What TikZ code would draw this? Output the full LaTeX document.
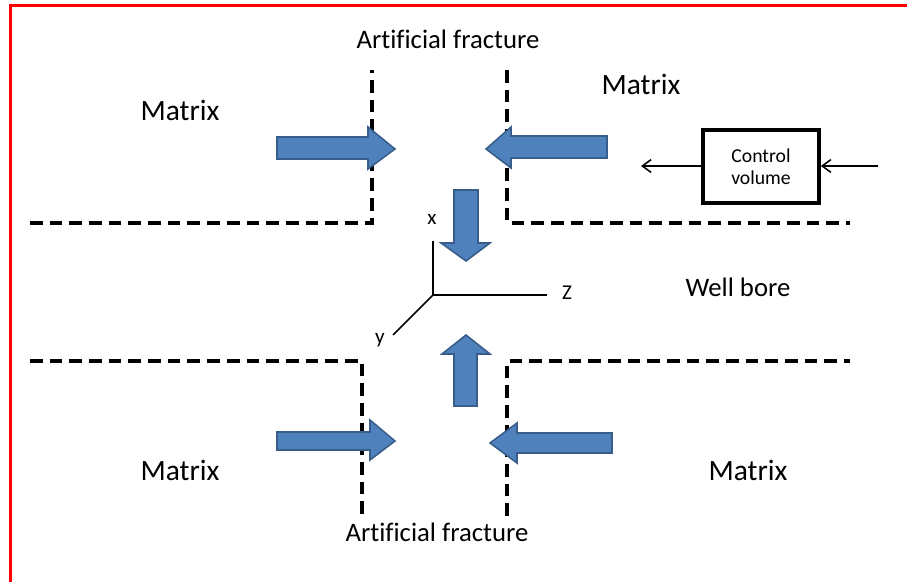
\documentclass[tikz,border=0pt]{standalone}
\usepackage{fontspec}
\setmainfont{Carlito}[Ligatures=NoCommon]
\usetikzlibrary{arrows.meta}
\definecolor{arrowfill}{RGB}{79,129,189}
\definecolor{arrowline}{RGB}{56,93,138}

\begin{document}
\begin{tikzpicture}[x=0.025cm,y=-0.025cm,line cap=butt,
  fracline/.style={line width=2.5pt,dash pattern=on 9pt off 5pt},
  blockarrow/.style={fill=arrowfill,draw=arrowline,line width=1.1pt,line join=miter},
  label/.style={inner sep=0pt,font=\fontsize{19}{22}\selectfont},
  matrixlabel/.style={inner sep=0pt,font=\fontsize{21}{24}\selectfont}]
\useasboundingbox (0,0) rectangle (907,582);
% frame
\draw[red,line width=2.4pt] (907,5.5) -- (10.5,5.5) -- (10.5,582);
% fracture and well bore walls
\draw[fracline] (30,223) -- (372,223) -- (372,70);
\draw[fracline] (507,70) -- (507,223) -- (850,223);
\draw[fracline] (30,361) -- (362,361) -- (362,516);
\draw[fracline] (507,516) -- (507,361) -- (850,361);
% flow arrows
\filldraw[blockarrow] (277,137) -- (368,137) -- (368,127) -- (395,149) -- (368,169) -- (368,159) -- (277,159) -- cycle;
\filldraw[blockarrow] (607,136) -- (511,136) -- (511,127) -- (486,149) -- (511,168) -- (511,158) -- (607,158) -- cycle;
\filldraw[blockarrow] (454,190) -- (478,190) -- (478,243) -- (490,243) -- (466,261) -- (441,243) -- (454,243) -- cycle;
\filldraw[blockarrow] (454,406) -- (477,406) -- (477,354) -- (490,354) -- (466,335) -- (442,354) -- (454,354) -- cycle;
\filldraw[blockarrow] (277,432) -- (370,432) -- (370,420) -- (395,441) -- (370,460) -- (370,450) -- (277,450) -- cycle;
\filldraw[blockarrow] (612,433) -- (517,433) -- (517,423) -- (490,443) -- (517,463) -- (517,453) -- (612,453) -- cycle;
% axes
\coordinate (origin) at (433,295);
\coordinate (xend) at (433,241);
\coordinate (zend) at (547,295);
\coordinate (yend) at (393,335);
\draw[line width=1.2pt] (xend) -- (origin) -- (zend);
\draw[line width=1.2pt] (origin) -- (yend);
\node[font=\fontsize{15}{17}\selectfont] (xlab) at (432,219) {x};
\node[font=\fontsize{15}{17}\selectfont] (zlab) at (567,293) {Z};
\node[font=\fontsize{15}{17}\selectfont] (ylab) at (380,340) {y};
% control volume
\node[draw,line width=2.6pt,minimum width=116*0.025cm,minimum height=73*0.025cm,
  align=center,font=\fontsize{14}{16}\selectfont] (cv) at (761,166.5) {Control\\volume};
\coordinate (cvout) at (641,166);
\coordinate (cvin) at (878,166);
\draw[-{Straight Barb[length=2.2mm,width=3.2mm]},line width=1.1pt] (cv.west |- cvout) -- (cvout);
\draw[-{Straight Barb[length=2.2mm,width=3.2mm]},line width=1.1pt] (cvin) -- (cv.east |- cvin);
% labels
\node[label] (fractop) at (448,39) {Artif\kern0pt icial fracture};
\node[label] (fracbot) at (437,532) {Artif\kern0pt icial fracture};
\node[matrixlabel] (matrixtl) at (180,110) {Matrix};
\node[matrixlabel] (matrixtr) at (641,84) {Matrix};
\node[matrixlabel] (matrixbl) at (180,470) {Matrix};
\node[matrixlabel] (matrixbr) at (748,470) {Matrix};
\node[label] (wellbore) at (738,287) {Well bore};
\end{tikzpicture}
\end{document}
